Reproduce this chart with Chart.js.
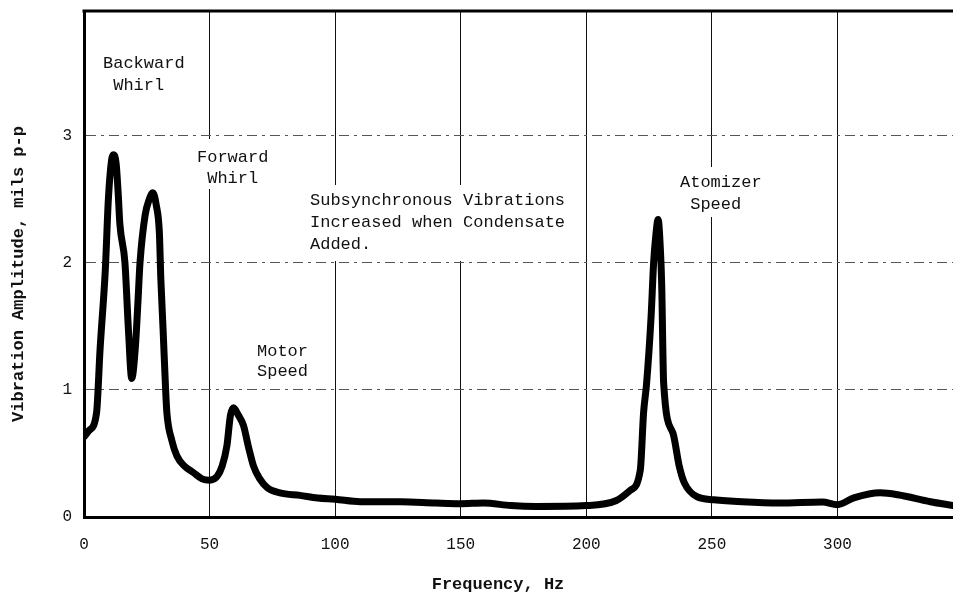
<!DOCTYPE html>
<html>
<head>
<meta charset="utf-8">
<script src="https://cdn.jsdelivr.net/npm/chart.js@4/dist/chart.umd.min.js"></script>
<style>
  html, body { margin: 0; padding: 0; background: #fff; }
  #c { display: block; }
</style>
</head>
<body>
<canvas id="c" width="953" height="599"></canvas>
<script>
// frequency (Hz) and amplitude (mils p-p)
var freqHz = [0, 2, 5, 6.4, 8.5, 9.7, 11, 11.7, 12.8, 13.6, 14.3, 16.3, 17.7, 19, 20.5, 21.5, 22.3, 24.3, 26, 27.4, 28.8, 30, 30.6, 31.5, 32.5, 33, 35, 37, 40, 43.5, 47, 50, 53, 55, 56.9, 58.3, 59.5, 61.5, 63.5, 65.5, 67.5, 70, 73, 78, 86, 93, 100, 110, 126, 140, 150, 159, 170, 180, 200, 212, 217.5, 221.5, 222.8, 224, 225.8, 226.8, 227.6, 228.6, 229.5, 230, 230.8, 234.5, 237, 239, 244, 250.7, 262, 277, 294, 300, 306.5, 317, 324, 337, 346];
var ampMils = [0.63, 0.68, 0.82, 1.32, 1.95, 2.5, 2.81, 2.85, 2.78, 2.55, 2.3, 2.0, 1.47, 1.09, 1.35, 1.7, 2.0, 2.37, 2.5, 2.55, 2.45, 2.24, 1.87, 1.47, 1.0, 0.82, 0.6, 0.48, 0.4, 0.35, 0.3, 0.29, 0.32, 0.4, 0.56, 0.8, 0.86, 0.8, 0.72, 0.55, 0.4, 0.3, 0.23, 0.19, 0.17, 0.15, 0.14, 0.12, 0.12, 0.11, 0.105, 0.11, 0.09, 0.083, 0.09, 0.13, 0.21, 0.37, 0.82, 1.05, 1.58, 2.0, 2.2, 2.34, 2.1, 1.84, 1.05, 0.66, 0.4, 0.27, 0.16, 0.136, 0.12, 0.11, 0.118, 0.097, 0.15, 0.19, 0.175, 0.12, 0.09];
var xTicks = [0, 50, 100, 150, 200, 250, 300];
var yTicks = [0, 1, 2, 3];

var FONT = '"Liberation Mono", "DejaVu Sans Mono", monospace';

// notes: left x, first line y, line height, white box behind
var notes = [
    { lines: ['Backward', ' Whirl'], x: 103, y: 63, lh: 22, box: null },
    { lines: ['Forward', ' Whirl'], x: 197, y: 157, lh: 21, box: [193, 139, 272, 189] },
    { lines: ['Motor', 'Speed'], x: 257, y: 351, lh: 20, box: null },
    { lines: ['Subsynchronous Vibrations', 'Increased when Condensate', 'Added.'], x: 310, y: 200, lh: 22, box: [303, 185, 584, 261] },
    { lines: ['Atomizer', ' Speed'], x: 680, y: 182, lh: 22, box: [676, 167, 765, 217] }
];

var points = [];
for (var i = 0; i < freqHz.length; i++) {
    points.push({ x: freqHz[i], y: ampMils[i] });
}

var notesPlugin = {
    id: 'notes',
    beforeDatasetsDraw: function (chart) {
        var ctx = chart.ctx;
        ctx.save();
        ctx.font = '17px ' + FONT;
        ctx.textBaseline = 'middle';
        ctx.textAlign = 'left';
        notes.forEach(function (n) {
            if (n.box) {
                ctx.fillStyle = '#fff';
                ctx.fillRect(n.box[0], n.box[1], n.box[2] - n.box[0], n.box[3] - n.box[1]);
            }
            ctx.fillStyle = '#111';
            n.lines.forEach(function (t, k) {
                ctx.fillText(t, n.x, n.y + k * n.lh);
            });
        });
        ctx.restore();
    },
    afterDraw: function (chart) {
        var ctx = chart.ctx;
        var a = chart.chartArea;
        ctx.save();
        // top frame line
        ctx.strokeStyle = '#000';
        ctx.lineWidth = 3;
        ctx.beginPath();
        ctx.moveTo(a.left - 1.5, a.top);
        ctx.lineTo(a.right, a.top);
        ctx.stroke();

        // axis titles
        ctx.fillStyle = '#111';
        ctx.font = 'bold 17px ' + FONT;
        ctx.textAlign = 'center';
        ctx.textBaseline = 'middle';
        ctx.fillText('Frequency, Hz', 498, 585);
        ctx.translate(19, 274);
        ctx.rotate(-Math.PI / 2);
        ctx.fillText('Vibration Amplitude, mils p-p', 0, 0);
        ctx.restore();
    }
};

var config = {
    type: 'line',
    data: {
        datasets: [{
            data: points,
            borderColor: '#000',
            borderWidth: 7,
            pointRadius: 0,
            fill: false,
            cubicInterpolationMode: 'monotone',
            borderCapStyle: 'round',
            borderJoinStyle: 'round'
        }]
    },
    options: {
        responsive: false,
        devicePixelRatio: 1,
        animation: false,
        layout: { padding: { top: 11, right: 0, left: 0, bottom: 0 } },
        plugins: {
            legend: { display: false },
            tooltip: { enabled: false }
        },
        scales: {
            x: {
                type: 'linear',
                min: 0,
                max: 346,
                afterFit: function (s) {
                    s.height = 82;
                    s.paddingLeft = 0;
                    s.paddingRight = 0;
                },
                afterBuildTicks: function (s) {
                    s.ticks = xTicks.map(function (v) { return { value: v }; });
                },
                ticks: {
                    color: '#111',
                    font: { family: FONT, size: 16 },
                    padding: 18,
                    maxRotation: 0
                },
                grid: {
                    drawTicks: false,
                    color: function (c) { return c.tick && c.tick.value === 0 ? 'rgba(0,0,0,0)' : '#111'; },
                    lineWidth: 1
                },
                border: { display: true, color: '#000', width: 3 }
            },
            y: {
                type: 'linear',
                min: 0,
                max: 3.98,
                afterFit: function (s) {
                    s.width = 84;
                    s.paddingTop = 0;
                    s.paddingBottom = 0;
                },
                afterBuildTicks: function (s) {
                    s.ticks = yTicks.map(function (v) { return { value: v }; });
                },
                ticks: {
                    color: '#111',
                    font: { family: FONT, size: 16 },
                    padding: 12
                },
                grid: {
                    drawTicks: false,
                    color: function (c) { return c.tick && c.tick.value === 0 ? 'rgba(0,0,0,0)' : '#555'; },
                    lineWidth: 1
                },
                // dash here applies to the horizontal grid lines
                border: { display: true, color: '#000', width: 3, dash: [10, 5, 3, 5] }
            }
        }
    },
    plugins: [notesPlugin]
};

var myChart = new Chart(document.getElementById('c'), config);
</script>
</body>
</html>
